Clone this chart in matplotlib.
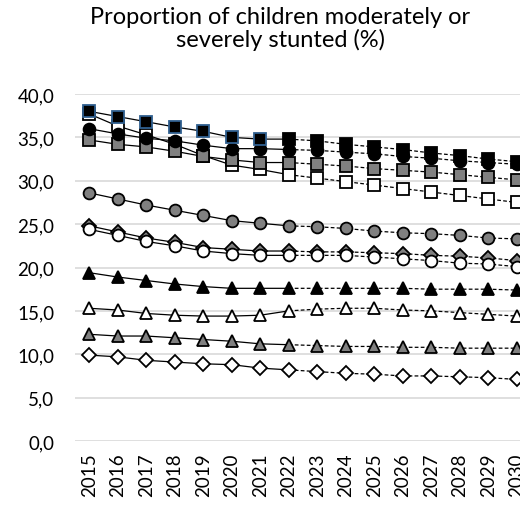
import matplotlib
matplotlib.use("Agg")
import matplotlib.pyplot as plt
from matplotlib.ticker import FuncFormatter

plt.rcParams['font.family'] = ['Lato', 'DejaVu Sans']

years = list(range(2015, 2031))

black_squares = [38.0, 37.4, 36.8, 36.2, 35.7, 35.0, 34.8, 34.8, 34.6, 34.2, 33.9, 33.6, 33.2, 32.9, 32.5, 32.2]
black_circles = [36.0, 35.4, 34.9, 34.6, 34.1, 33.7, 33.7, 33.6, 33.5, 33.3, 33.1, 32.8, 32.6, 32.3, 32.1, 31.9]
gray_squares = [34.7, 34.2, 33.9, 33.4, 32.8, 32.4, 32.1, 32.1, 31.9, 31.7, 31.4, 31.2, 31.0, 30.7, 30.4, 30.1]
white_squares = [37.7, 36.3, 35.3, 34.2, 32.9, 31.8, 31.3, 30.7, 30.3, 29.9, 29.5, 29.1, 28.7, 28.3, 27.9, 27.5]
gray_circles = [28.6, 27.9, 27.2, 26.6, 26.0, 25.4, 25.1, 24.8, 24.7, 24.5, 24.2, 24.0, 23.9, 23.7, 23.4, 23.3]
gray_diamonds = [24.8, 24.1, 23.4, 22.9, 22.3, 22.1, 21.9, 21.9, 21.8, 21.8, 21.7, 21.6, 21.4, 21.3, 21.1, 20.8]
white_circles = [24.4, 23.7, 23.0, 22.5, 21.9, 21.6, 21.4, 21.4, 21.4, 21.4, 21.2, 21.0, 20.8, 20.5, 20.4, 20.1]
black_triangles = [19.4, 18.9, 18.5, 18.1, 17.8, 17.6, 17.6, 17.6, 17.6, 17.6, 17.6, 17.6, 17.5, 17.5, 17.5, 17.4]
white_triangles = [15.3, 15.1, 14.7, 14.5, 14.4, 14.4, 14.5, 15.0, 15.2, 15.3, 15.3, 15.1, 15.0, 14.8, 14.6, 14.4]
gray_triangles = [12.3, 12.1, 12.1, 11.9, 11.7, 11.5, 11.2, 11.1, 11.0, 10.9, 10.9, 10.8, 10.8, 10.7, 10.7, 10.7]
white_diamonds = [9.9, 9.7, 9.3, 9.1, 8.9, 8.8, 8.4, 8.2, 8.0, 7.8, 7.7, 7.5, 7.5, 7.4, 7.3, 7.1]

title = "Proportion of children moderately or\nseverely stunted (%)"
split_year = 2022

GRAY = "#808080"
series = [
    (white_diamonds, "D", "white", 7.0),
    (gray_triangles, "^", GRAY, 8.5),
    (white_triangles, "^", "white", 8.5),
    (black_triangles, "^", "black", 8.5),
    (gray_diamonds, "D", GRAY, 7.0),
    (white_circles, "o", "white", 8.5),
    (gray_circles, "o", GRAY, 8.5),
    (white_squares, "s", "white", 8.5),
    (gray_squares, "s", GRAY, 8.5),
    (black_circles, "o", "black", 8.5),
    (black_squares, "s", "black", 8.5),
]

fig = plt.figure(figsize=(5.2, 5.1), dpi=100)
ax = fig.add_axes([75/520, 68/510, 456/520, 347/510])

x = list(range(len(years)))
k = years.index(split_year)
for i, (vals, mk, fc, ms) in enumerate(series):
    z = 3 + i
    ax.plot(x[:k+1], vals[:k+1], color="black", lw=0.9, ls="-", zorder=z)
    ax.plot(x[k:], vals[k:], color="black", lw=0.9, ls=(0, (3, 1.8)), zorder=z)
    if vals is black_squares:
        ax.plot(x[:k], vals[:k], ls="none", marker=mk, ms=ms, mfc=fc,
                mec="#2F5F8F", mew=1.3, zorder=z + 0.5)
        ax.plot(x[k:], vals[k:], ls="none", marker=mk, ms=ms, mfc=fc,
                mec="black", mew=1.3, zorder=z + 0.5)
    else:
        ax.plot(x, vals, ls="none", marker=mk, ms=ms, mfc=fc,
                mec="black", mew=1.3, zorder=z + 0.5)

ax.set_xlim(-0.5, len(years) - 0.5)
ax.set_ylim(0, 40)
ax.set_yticks(range(0, 41, 5))
ax.yaxis.set_major_formatter(FuncFormatter(lambda v, p: f"{v:.1f}".replace(".", ",")))
ax.set_xticks(x)
ax.set_xticklabels([str(y) for y in years], rotation=90, fontsize=13.5)
ax.tick_params(axis="y", labelsize=13.5, length=0, pad=15)
ax.tick_params(axis="x", length=0, pad=8)
ax.grid(axis="y", color="#d9d9d9", lw=1.2)
ax.set_axisbelow(True)
for s in ax.spines.values():
    s.set_visible(False)

fig.text(280/520, 1 - 29/510, title, ha="center", va="center", fontsize=17,
         linespacing=1.0)

fig.savefig("out.png", dpi=100)
